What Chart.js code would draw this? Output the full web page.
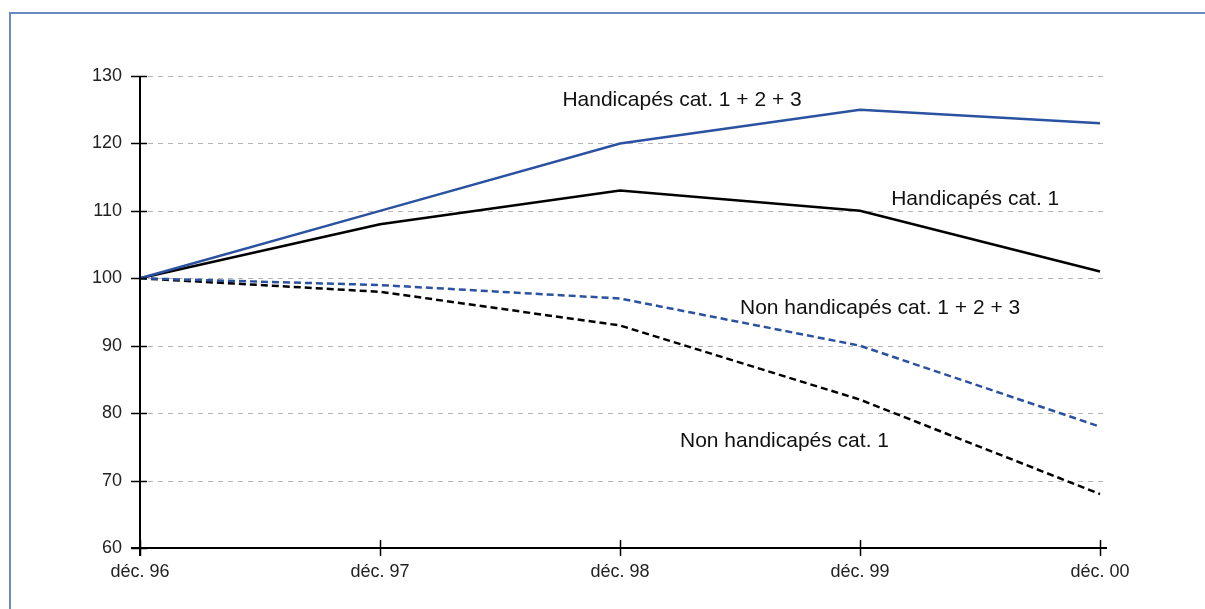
<!DOCTYPE html>
<html>
<head>
<meta charset="utf-8">
<script src="https://cdn.jsdelivr.net/npm/chart.js"></script>
<style>
  html, body { margin: 0; padding: 0; background: #fff; overflow: hidden; }
  #wrap { position: relative; width: 1205px; height: 609px; }
  #frame { position: absolute; left: 9px; top: 12px; width: 1300px; height: 700px;
           border: 2px solid #6a8ac4; box-sizing: border-box; }
  canvas { position: absolute; left: 0; top: 0; }
</style>
</head>
<body>
<div id="wrap">
  <div id="frame"></div>
  <canvas id="chart" width="1205" height="609"></canvas>
</div>
<script>
var labels = ['déc. 96', 'déc. 97', 'déc. 98', 'déc. 99', 'déc. 00'];
var handi123 = [100, 110, 120, 125, 123];
var handi1 = [100, 108, 113, 110, 101];
var nonHandi123 = [100, 99, 97, 90, 78];
var nonHandi1 = [100, 98, 93, 82, 68];
var yTicks = [60, 70, 80, 90, 100, 110, 120, 130];

var FONT = '"Liberation Sans", Arial, sans-serif';
var BLUE = '#2b52a1';

// text labels placed next to the lines (x in category index, y in axis units)
var lineLabels = [
  { text: 'Handicapés cat. 1 + 2 + 3', x: 1.76, y: 126.4 },
  { text: 'Handicapés cat. 1', x: 3.13, y: 111.8 },
  { text: 'Non handicapés cat. 1 + 2 + 3', x: 2.5, y: 95.6 },
  { text: 'Non handicapés cat. 1', x: 2.25, y: 75.9 }
];

// dashed grid, axes with crossing ticks, and the line labels
var extras = {
  id: 'extras',
  beforeDatasetsDraw: function(chart) {
    var ctx = chart.ctx;
    var ys = chart.scales.y;
    var area = chart.chartArea;
    ctx.save();
    ctx.strokeStyle = '#b5b5b5';
    ctx.lineWidth = 1;
    ctx.setLineDash([5, 5]);
    yTicks.forEach(function(v) {
      if (v === 60) return;
      var py = Math.round(ys.getPixelForValue(v)) + 0.5;
      ctx.beginPath();
      ctx.moveTo(area.left + 8, py);
      ctx.lineTo(area.right + 6, py);
      ctx.stroke();
    });
    ctx.restore();
  },
  afterDraw: function(chart) {
    var ctx = chart.ctx;
    var xs = chart.scales.x, ys = chart.scales.y;
    var area = chart.chartArea;
    ctx.save();
    ctx.strokeStyle = '#000';
    ctx.lineWidth = 2;
    ctx.beginPath();
    ctx.moveTo(area.left, area.top);
    ctx.lineTo(area.left, area.bottom + 8);
    ctx.moveTo(area.left - 9, area.bottom);
    ctx.lineTo(area.right + 7, area.bottom);
    ctx.stroke();
    ctx.lineWidth = 1.5;
    yTicks.forEach(function(v) {
      var py = Math.round(ys.getPixelForValue(v)) + 0.5;
      ctx.beginPath();
      ctx.moveTo(area.left - 9, py);
      ctx.lineTo(area.left + 7, py);
      ctx.stroke();
    });
    labels.forEach(function(l, i) {
      var px = Math.round(xs.getPixelForValue(i)) + 0.5;
      ctx.beginPath();
      ctx.moveTo(px, area.bottom - 8);
      ctx.lineTo(px, area.bottom + 8);
      ctx.stroke();
    });
    ctx.fillStyle = '#111';
    ctx.font = '21px ' + FONT;
    ctx.textBaseline = 'middle';
    ctx.textAlign = 'left';
    lineLabels.forEach(function(l) {
      ctx.fillText(l.text, xs.getPixelForValue(l.x), ys.getPixelForValue(l.y));
    });
    ctx.restore();
  }
};

function ds(label, data, color, dashed) {
  return {
    label: label,
    data: data,
    borderColor: color,
    borderWidth: 2.5,
    borderDash: dashed ? [7, 4] : [],
    pointRadius: 0,
    tension: 0,
    fill: false
  };
}

new Chart(document.getElementById('chart'), {
  type: 'line',
  data: {
    labels: labels,
    datasets: [
      ds('Handicapés cat. 1 + 2 + 3', handi123, BLUE, false),
      ds('Handicapés cat. 1', handi1, '#000', false),
      ds('Non handicapés cat. 1 + 2 + 3', nonHandi123, BLUE, true),
      ds('Non handicapés cat. 1', nonHandi1, '#000', true)
    ]
  },
  options: {
    responsive: false,
    animation: false,
    layout: { padding: { top: 76, right: 105, left: 0, bottom: 0 } },
    plugins: { legend: { display: false }, tooltip: { enabled: false } },
    scales: {
      x: {
        offset: false,
        grid: { display: false, drawTicks: false },
        border: { display: false },
        ticks: { color: '#222', font: { family: FONT, size: 18 }, padding: 13, maxRotation: 0 },
        afterFit: function(s) { s.height = 61; }
      },
      y: {
        min: 60, max: 130,
        afterBuildTicks: function(s) { s.ticks = yTicks.map(function(v) { return { value: v }; }); },
        grid: { display: false, drawTicks: false },
        border: { display: false },
        ticks: { color: '#222', font: { family: FONT, size: 18 }, padding: 18 },
        afterFit: function(s) { s.width = 140; }
      }
    }
  },
  plugins: [extras]
});
</script>
</body>
</html>
